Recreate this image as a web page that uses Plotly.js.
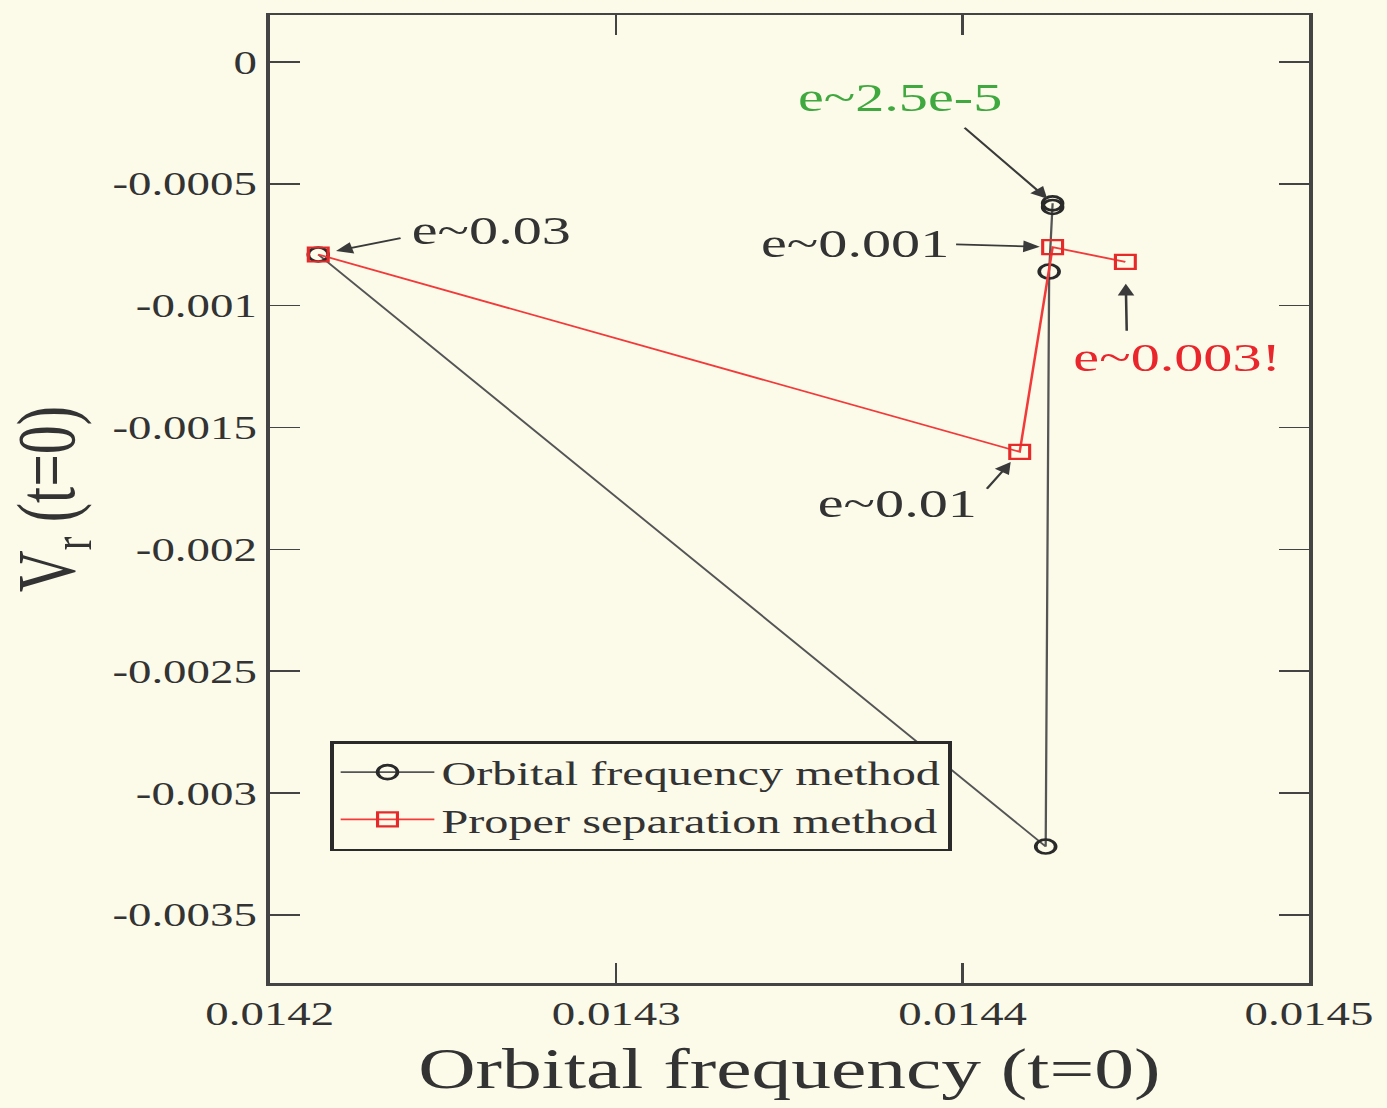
<!DOCTYPE html>
<html>
<head>
<meta charset="utf-8">
<script src="https://cdn.plot.ly/plotly-3.0.1.min.js"></script>
<style>
  html, body { margin: 0; padding: 0; background: #fcfbea; overflow: hidden; }
  #chart { width: 977px; height: 1108px; transform: scaleX(1.4197); transform-origin: 0 0; }
</style>
</head>
<body>
<div id="chart"></div>
<script>
// Orbital frequency method: initial orbital frequency vs initial radial velocity
const freqOrbital = [0.014214, 0.014424, 0.014425, 0.014426, 0.014426];
const vrOrbital   = [-0.00079, -0.00322, -0.00086, -0.000595, -0.00058];

// Proper separation method
const freqProper = [0.014214, 0.0144165, 0.014426, 0.014447];
const vrProper   = [-0.00079, -0.0016, -0.00076, -0.00082];

// Eccentricity labels
const eccLabels = ['e~0.03', 'e~2.5e-5', 'e~0.001', 'e~0.003!', 'e~0.01'];

// Axis ticks
const xTickVals = [0.0142, 0.0143, 0.0144, 0.0145];
const xTickText = ['0.0142', '0.0143', '0.0144', '0.0145'];
const yTickVals = [0, -0.0005, -0.001, -0.0015, -0.002, -0.0025, -0.003, -0.0035];
const yTickText = ['0', '-0.0005', '-0.001', '-0.0015', '-0.002', '-0.0025', '-0.003', '-0.0035'];

const SERIF = 'Liberation Serif, Times New Roman, serif';
const INK = '#333333';
const BG = '#fcfbea';

const traces = [
  {
    x: freqOrbital, y: vrOrbital,
    mode: 'lines+markers', type: 'scatter',
    name: 'Orbital frequency method',
    line: { color: '#555555', width: 1.6 },
    marker: { symbol: 'circle-open', size: 14, color: '#2a2a2a', line: { width: 2.6, color: '#2a2a2a' } }
  },
  {
    x: freqProper, y: vrProper,
    mode: 'lines+markers', type: 'scatter',
    name: 'Proper separation method',
    line: { color: '#f23a3a', width: 1.8 },
    marker: { symbol: 'square-open', size: 14, color: '#e62a2a', line: { width: 2.2, color: '#e62a2a' } }
  }
];

// Arrow pointing at a data point, tail offset in px
function arrow(x, y, ax, ay, standoff) {
  return {
    x: x, y: y, xref: 'x', yref: 'y', text: ' ',
    font: { size: 2 },
    showarrow: true, ax: ax, ay: ay,
    arrowhead: 2, arrowsize: 1.3, arrowwidth: 1.8, arrowcolor: '#3a3a3a',
    standoff: standoff
  };
}
function label(text, x, y, color) {
  return {
    x: x, y: y, xref: 'x', yref: 'y', text: text, showarrow: false,
    xanchor: 'center', yanchor: 'middle',
    font: { family: SERIF, size: 41, color: color }
  };
}

const annotations = [
  arrow(freqProper[0], vrProper[0], 60, -17, 13),
  label(eccLabels[0], 0.014264, -0.00069, INK),
  arrow(freqOrbital[4], vrOrbital[4], -64, -78, 6),
  label(eccLabels[1], 0.014382, -0.000144, '#3fa93f'),
  arrow(freqProper[2], vrProper[2], -70, -3, 9),
  label(eccLabels[2], 0.014369, -0.000743, INK),
  arrow(freqProper[3], vrProper[3], 1, 72, 22),
  label(eccLabels[3], 0.014462, -0.001211, '#e8262c'),
  arrow(freqProper[1], vrProper[1], -25, 40, 12),
  label(eccLabels[4], 0.014381, -0.00181, INK)
];

const layout = {
  width: 977, height: 1108,
  paper_bgcolor: BG, plot_bgcolor: BG,
  margin: { l: 190, r: 55, t: 15, b: 125 },
  showlegend: true,
  legend: {
    x: 0.058, y: 0.25, xanchor: 'left', yanchor: 'top',
    bgcolor: BG, bordercolor: '#2a2a2a', borderwidth: 2.5,
    font: { family: SERIF, size: 34, color: INK },
    itemwidth: 66, tracegroupgap: 0
  },
  xaxis: {
    range: [0.0142, 0.0145],
    tickmode: 'array', tickvals: xTickVals, ticktext: xTickText,
    ticks: 'inside', ticklen: 20, tickwidth: 1.5, tickcolor: '#444',
    showline: true, linewidth: 2.5, linecolor: '#444', mirror: 'ticks',
    showgrid: false, zeroline: false,
    tickfont: { family: SERIF, size: 33, color: INK },
    title: { text: 'Orbital frequency (t=0)', font: { family: SERIF, size: 56, color: INK }, standoff: 18 }
  },
  yaxis: {
    range: [-0.00378, 0.000193],
    tickmode: 'array', tickvals: yTickVals, ticktext: yTickText,
    ticks: 'inside', ticklen: 21, tickwidth: 1.5, tickcolor: '#444',
    showline: true, linewidth: 2.5, linecolor: '#444', mirror: 'ticks',
    showgrid: false, zeroline: false,
    tickfont: { family: SERIF, size: 33, color: INK },
    title: { text: 'V<sub>r</sub> (t=0)', font: { family: SERIF, size: 58, color: INK }, standoff: 12 }
  },
  annotations: annotations
};

Plotly.newPlot('chart', traces, layout, { staticPlot: true, displayModeBar: false });
</script>
</body>
</html>
